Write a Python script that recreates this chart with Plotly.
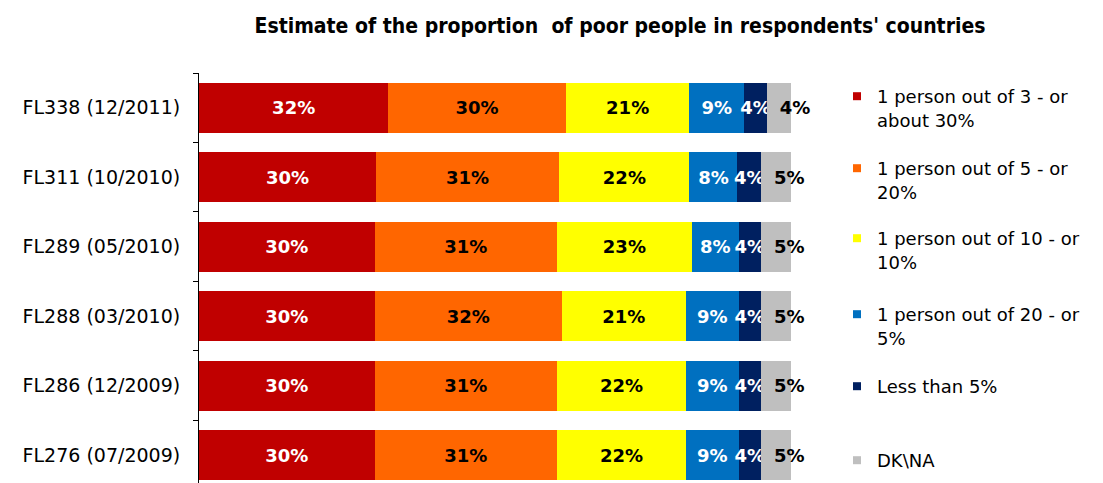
import plotly.graph_objects as go

categories = ["FL338 (12/2011)", "FL311 (10/2010)", "FL289 (05/2010)",
              "FL288 (03/2010)", "FL286 (12/2009)", "FL276 (07/2009)"]

series_names = ["1 person out of 3 - or<br>about 30%",
                "1 person out of 5 - or<br>20%",
                "1 person out of 10 - or<br>10%",
                "1 person out of 20 - or<br>5%",
                "Less than 5%",
                "DK\\NA"]

one_in_3 = [32.0, 29.9, 29.7, 29.7, 29.7, 29.7]
one_in_5 = [30.0, 31.0, 30.8, 31.6, 30.8, 30.8]
one_in_10 = [20.9, 22.0, 22.8, 21.0, 21.8, 21.8]
one_in_20 = [9.2, 8.1, 7.9, 8.9, 8.9, 8.9]
less_than_5 = [3.9, 4.0, 3.8, 3.8, 3.8, 3.8]
dk_na = [4.0, 5.1, 5.1, 5.1, 5.1, 5.1]

values = [one_in_3, one_in_5, one_in_10, one_in_20, less_than_5, dk_na]
colors = ["#C00000", "#FF6600", "#FFFF00", "#0070C0", "#002060", "#BFBFBF"]
text_colors = ["white", "black", "black", "white", "white", "black"]
text_anchor = ["middle", "middle", "middle", "middle", "middle", "start"]
text_tpl = ["%{x:.0f}%"] * 5 + ["\u00a0\u2009%{x:.0f}%"]

FONT = "DejaVu Sans"
LABEL_SIZE = 18
W, H = 1103, 483
TOP, BOTTOM, LEFT = 73, 0, 199
XMAX = 100.4
PX_PER_UNIT = 5.92
RIGHT = W - LEFT - round(XMAX * PX_PER_UNIT)

fig = go.Figure()
for i, (name, vals) in enumerate(zip(series_names, values)):
    fig.add_trace(go.Bar(
        y=categories, x=vals, orientation="h", name=name,
        marker=dict(color=colors[i], line=dict(width=0)),
        texttemplate=text_tpl[i], textposition="inside",
        insidetextanchor=text_anchor[i], textangle=0,
        textfont=dict(family=FONT, size=LABEL_SIZE, color=text_colors[i], weight="bold"),
        cliponaxis=False, showlegend=False, hoverinfo="skip",
    ))

# legend entries (small square markers), one legend per entry for placement
legend_centers = [95, 167, 237, 313, 385, 459]
for i, name in enumerate(series_names):
    lg = "legend" if i == 0 else f"legend{i+1}"
    fig.add_trace(go.Scatter(
        x=[None], y=[None], mode="markers", name=name,
        marker=dict(symbol="square", size=8, color=colors[i]),
        showlegend=True, legend=lg, hoverinfo="skip",
    ))

plot_h = H - TOP - BOTTOM
plot_w = W - LEFT - RIGHT
legend_layouts = {}
for i, yc in enumerate(legend_centers):
    key = "legend" if i == 0 else f"legend{i+1}"
    legend_layouts[key] = dict(
        x=(837 - LEFT) / plot_w, xref="paper",
        y=(H - BOTTOM - (yc - 17)) / plot_h,
        xanchor="left", yanchor="top",
        font=dict(family=FONT, size=18, color="black"),
        bgcolor="rgba(0,0,0,0)", borderwidth=0, valign="top",
        itemclick=False, itemdoubleclick=False,
    )

fig.update_layout(
    width=W, height=H,
    margin=dict(l=LEFT, r=RIGHT, t=TOP, b=BOTTOM, pad=0, autoexpand=False),
    barmode="stack", bargap=0.28,
    plot_bgcolor="white", paper_bgcolor="white",
    title=dict(text="<b>Estimate of the proportion  of poor people in respondents' countries</b>",
               x=620 / W, xanchor="center", y=1 - 26 / H, yanchor="middle",
               font=dict(family="DejaVu Sans Condensed, DejaVu Sans", size=21, color="black")),
    uniformtext=dict(minsize=LABEL_SIZE, mode="show"),
    xaxis=dict(range=[0, XMAX], visible=False, fixedrange=True),
    yaxis=dict(type="category", categoryorder="array", categoryarray=categories,
               range=[5.4, -0.5], showline=True, linecolor="black", linewidth=1,
               ticks="outside", tickson="boundaries", ticklen=5, tickcolor="black",
               showgrid=False, zeroline=False, ticklabelstandoff=14,
               tickfont=dict(family=FONT, size=19, color="black"), fixedrange=True),
    showlegend=True,
    **legend_layouts,
)

fig.write_html("out.html", config={"displayModeBar": False},
               post_script="document.body.style.margin='0';")
